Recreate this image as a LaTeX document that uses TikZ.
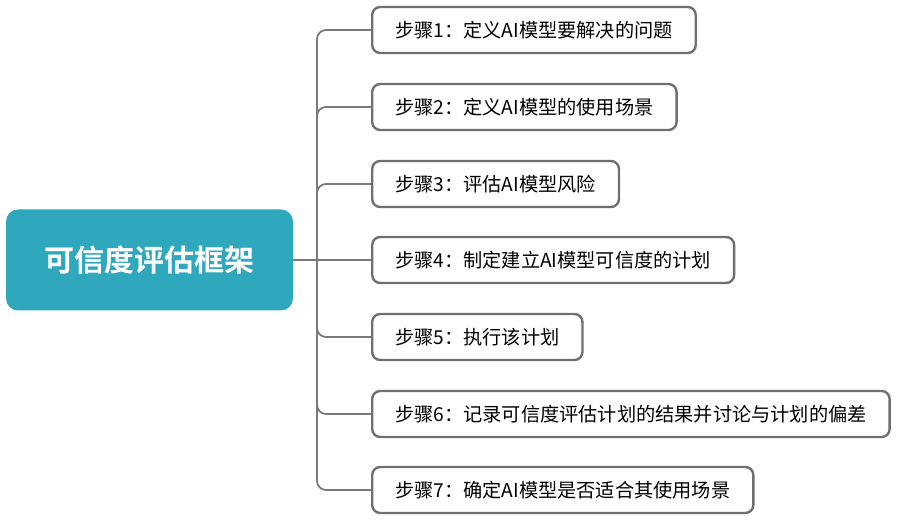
\documentclass[tikz,border=0pt]{standalone}
\usepackage{fontspec}
\setmainfont{Noto Sans CJK SC}
\newfontfamily\cjkbold{Noto Sans CJK SC Bold}
\definecolor{rootc}{HTML}{2FA8BE}
\definecolor{boxline}{HTML}{707070}
\definecolor{connc}{HTML}{7A7A7A}
\begin{document}
\begin{tikzpicture}[x=1pt,y=-1pt,
  rootbox/.style={fill=rootc, rounded corners=12pt, minimum width=287pt, minimum height=101pt, text=white, font=\cjkbold\fontsize{30}{32}\selectfont, inner sep=0pt},
  stepbox/.style={draw=boxline, line width=2.4pt, rounded corners=8pt, fill=white, minimum height=46pt, inner xsep=23pt, inner ysep=0pt, anchor=west, font=\fontsize{19.2}{21}\selectfont},
  conn/.style={draw=connc, line width=1.8pt, rounded corners=9pt}]
\useasboundingbox (0,0) rectangle (897,521);
\node[rootbox] (root) at (149.5,260) {可信度评估框架};
\coordinate (j) at (317,260);
\node[stepbox] (b1) at (371,30) {步骤1：定义AI模型要解决的问题};
\node[stepbox] (b2) at (371,107) {步骤2：定义AI模型的使用场景};
\node[stepbox] (b3) at (371,184) {步骤3：评估AI模型风险};
\node[stepbox] (b4) at (371,260) {步骤4：制定建立AI模型可信度的计划};
\node[stepbox] (b5) at (371,337) {步骤5：执行该计划};
\node[stepbox] (b6) at (371,414) {步骤6：记录可信度评估计划的结果并讨论与计划的偏差};
\node[stepbox] (b7) at (371,490) {步骤7：确定AI模型是否适合其使用场景};
\draw[conn] (root.east) -- (b4.west);
\foreach \b in {b1,b2,b3,b5,b6,b7}{
  \draw[conn] (j) |- (\b.west);
}
\end{tikzpicture}
\end{document}
